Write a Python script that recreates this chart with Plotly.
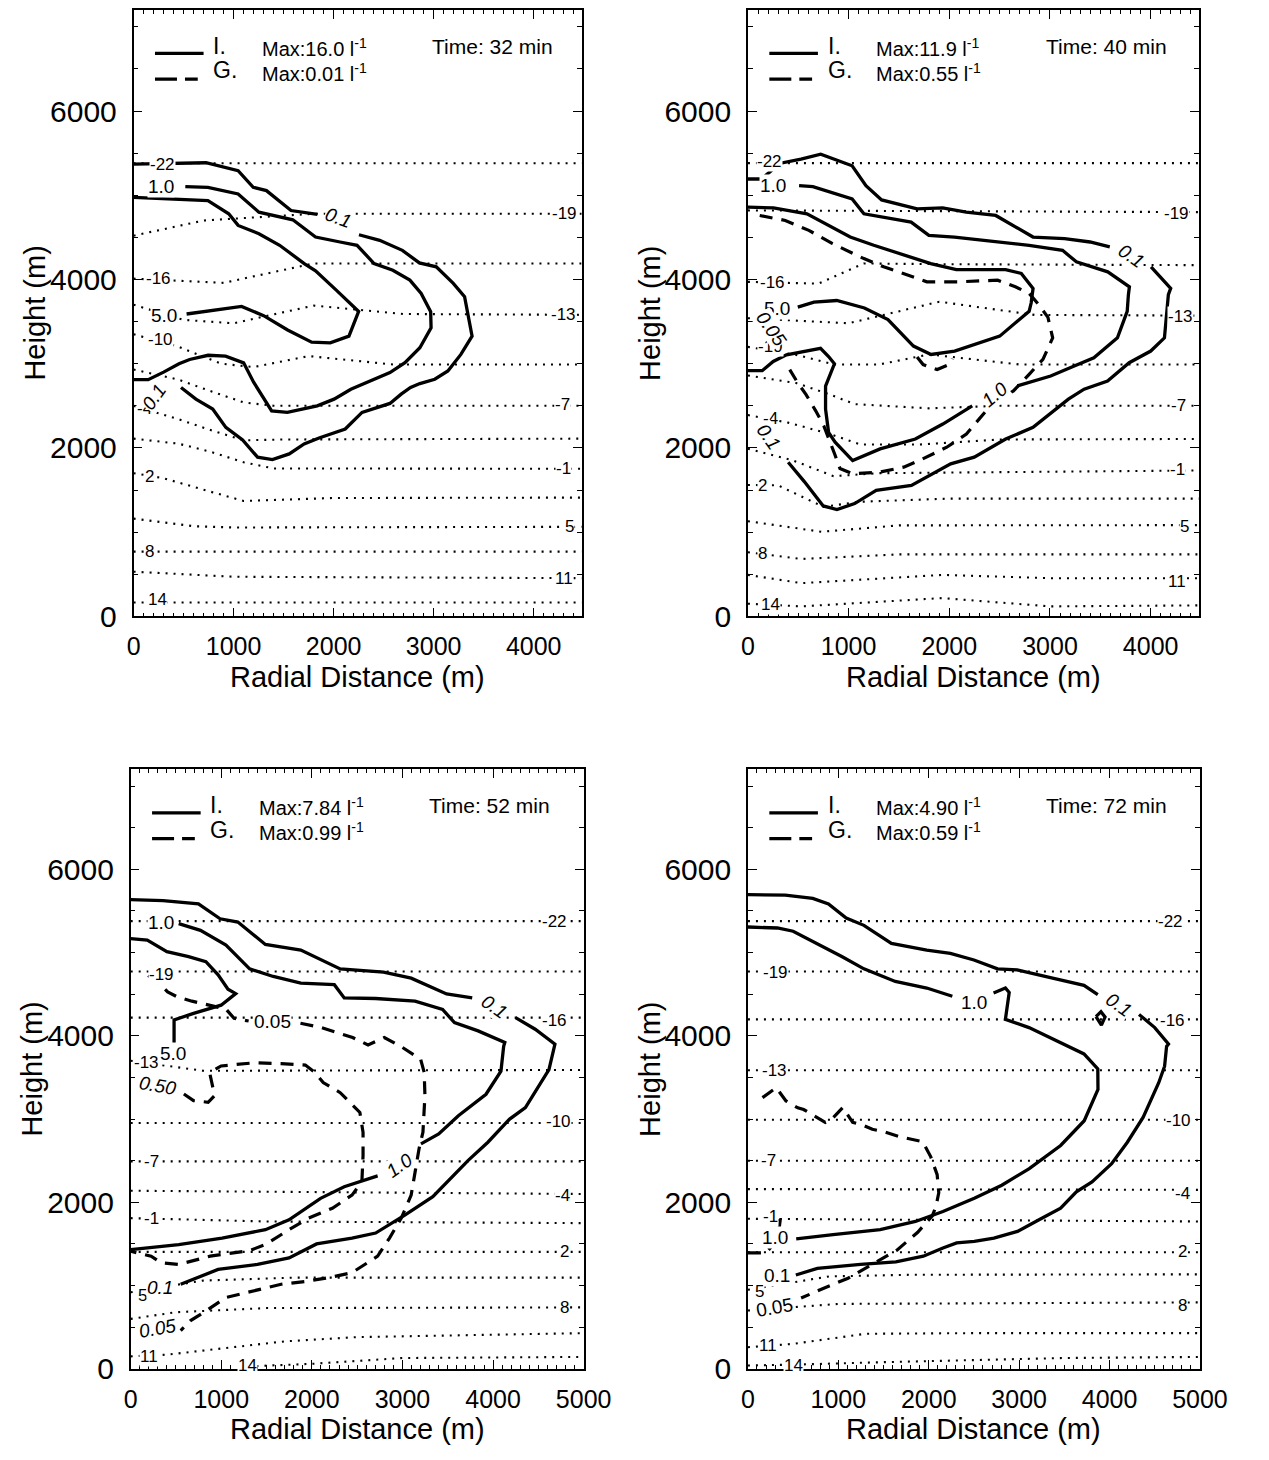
import plotly.graph_objects as go

# page is 1269x1460; the HTML body keeps its default 8px margin, so the figure is 16px smaller
PAGE_W, PAGE_H, OFF = 1269, 1460, 8
W, H = PAGE_W - 2 * OFF, PAGE_H - 2 * OFF

# ------------------------------------------------------------------ data
# temperature (deg C) isolines, dotted; each path is a list of (radial m, height m)
temp_levels = [-22, -19, -16, -13, -10, -7, -4, -1, 2, 5, 8, 11, 14]

# ---------- panel 1 : 32 min
p1_time, p1_ice_max, p1_gr_max = "32", "16.0", "0.01"
p1_temp = [
    [(0, 5380), (4480, 5380)],
    [(0, 4520), (700, 4700), (1800, 4780), (4480, 4780)],
    [(0, 4010), (900, 3960), (1800, 4190), (4480, 4190)],
    [(0, 3700), (500, 3520), (1000, 3480), (1800, 3690), (2700, 3590), (4480, 3580)],
    [(0, 3350), (450, 3200), (875, 3000), (1200, 2960), (1750, 3090), (2600, 2990), (4480, 2990)],
    [(0, 2930), (450, 2810), (780, 2670), (1100, 2540), (1400, 2500), (4480, 2500)],
    [(0, 2500), (450, 2340), (800, 2200), (1100, 2090), (1500, 2100), (4480, 2110)],
    [(0, 2110), (450, 2050), (780, 1950), (1100, 1830), (1400, 1756), (4480, 1752)],
    [(0, 1700), (300, 1640), (650, 1520), (1100, 1370), (2000, 1405), (4480, 1410)],
    [(0, 1160), (600, 1070), (1000, 1055), (4480, 1063)],
    [(0, 768), (4480, 768)],
    [(0, 530), (1000, 470), (4480, 453)],
    [(0, 165), (4480, 165)],
]
p1_temp_labels = [("-22", 290, 5360), ("-19", 4305, 4780), ("-16", 250, 4012), ("-13", 4300, 3580),
                  ("-10", 270, 3290), ("-7", 4290, 2510), ("-4", 110, 2470), ("-1", 4300, 1752),
                  ("2", 160, 1661), ("5", 4360, 1063), ("8", 160, 768), ("11", 4300, 445), ("14", 240, 200)]
p1_ice = [
    [(0, 5370), (724, 5386), (1045, 5291), (1196, 5094), (1328, 5055), (1574, 4819), (1838, 4772)],
    [(2253, 4531), (2460, 4465), (2687, 4346), (2857, 4197), (3026, 4150), (3196, 3953), (3309, 3795),
     (3347, 3559), (3384, 3327), (3272, 3110), (3142, 2913), (3011, 2815), (2862, 2764), (2769, 2717),
     (2675, 2638), (2563, 2528), (2284, 2421), (2116, 2224), (1854, 2118), (1705, 2047), (1556, 1929),
     (1388, 1862), (1239, 1890), (1090, 2094), (922, 2244), (791, 2461), (623, 2579), (474, 2717)],
    [(517, 5102), (743, 5094), (1045, 5016), (1253, 4799), (1592, 4709), (1819, 4504), (2064, 4445),
     (2234, 4406), (2404, 4189), (2592, 4110), (2762, 3992), (2875, 3835), (2970, 3618), (2974, 3425),
     (2862, 3189), (2713, 3012), (2563, 2894), (2340, 2776), (2172, 2697), (2004, 2579), (1836, 2500),
     (1537, 2421), (1380, 2440), (1200, 2780), (1100, 3010), (920, 3090), (745, 3100), (560, 3050),
     (454, 2999), (300, 2900), (146, 2810), (0, 2810)],
    [(0, 4976), (743, 4937), (951, 4780), (1045, 4642), (1253, 4543), (1460, 4406), (1706, 4189),
     (1819, 4102), (2026, 3874), (2250, 3620), (2153, 3327), (1966, 3248), (1780, 3255), (1540, 3400),
     (1300, 3570), (1080, 3680), (530, 3590)],
]
p1_gr = []
p1_cont_labels = [("1.0", 272, 5102, 0, False), ("0.1", 2040, 4730, 20, True),
                  ("5.0", 300, 3570, 0, False), ("0.1", 200, 2600, -55, True)]

# ---------- panel 2 : 40 min
p2_time, p2_ice_max, p2_gr_max = "40", "11.9", "0.55"
p2_temp = [
    [(0, 5382), (4480, 5382)],
    [(0, 4820), (4480, 4800)],
    [(0, 3972), (700, 3950), (1150, 4190), (2000, 4181), (4480, 4170)],
    [(0, 3540), (1000, 3480), (1900, 3736), (2850, 3579), (4480, 3571)],
    [(0, 3200), (500, 3100), (860, 2990), (1300, 2990), (1800, 3110), (2700, 2990), (4480, 2990)],
    [(0, 2860), (480, 2770), (800, 2640), (1060, 2520), (1800, 2470), (2500, 2500), (4480, 2500)],
    [(0, 2390), (400, 2300), (800, 2170), (1120, 2040), (1700, 2040), (2500, 2100), (4480, 2106)],
    [(0, 1990), (450, 1850), (850, 1665), (1300, 1700), (4480, 1732)],
    [(0, 1560), (300, 1555), (750, 1300), (1100, 1360), (2000, 1398), (4480, 1398)],
    [(0, 1130), (730, 1004), (1500, 1080), (4480, 1083)],
    [(0, 760), (530, 681), (1500, 736), (4480, 736)],
    [(0, 492), (530, 394), (1930, 492), (3000, 453), (4480, 453)],
    [(0, 150), (530, 118), (1930, 217), (3000, 118), (4480, 130)],
]
p2_temp_labels = [("-22", 215, 5400), ("-19", 4258, 4787), ("-16", 240, 3965), ("-13", 4297, 3560),
                  ("-10", 222, 3202), ("-7", 4274, 2500), ("-4", 222, 2350), ("-1", 4270, 1745),
                  ("2", 144, 1555), ("5", 4340, 1070), ("8", 144, 748), ("11", 4260, 415), ("14", 222, 140)]
p2_ice = [
    [(0, 5193), (137, 5193), (312, 5378), (527, 5429), (723, 5488), (1035, 5350), (1172, 5114), (1328, 4945),
     (1680, 4839), (1934, 4850), (2168, 4799), (2461, 4760), (2832, 4504), (3145, 4484), (3398, 4445),
     (3594, 4386)],
    [(4004, 4150), (4199, 3894), (4176, 3819), (4137, 3307), (4001, 3150), (3787, 3012), (3572, 2795),
     (3339, 2697), (3183, 2579), (2832, 2244), (2560, 2106), (2248, 1890), (2014, 1811), (1624, 1555),
     (1274, 1496), (1060, 1339), (884, 1268), (748, 1311), (560, 1600), (400, 1830)],
    [(508, 5114), (645, 5102), (1035, 4957), (1152, 4780), (1621, 4681), (1797, 4524), (2051, 4504),
     (2793, 4406), (3125, 4346), (3262, 4209), (3574, 4091), (3789, 3913), (3779, 3819), (3767, 3622),
     (3670, 3307), (3436, 3071), (3241, 2972), (3007, 2854), (2676, 2736)],
    [(2228, 2500), (1936, 2283), (1663, 2106), (1313, 1988), (1040, 1850), (866, 2068), (801, 2185),
     (771, 2460), (771, 2733), (859, 2999), (801, 3085), (721, 3183), (383, 3105), (251, 3026),
     (142, 2917), (0, 2917)],
    [(0, 4858), (254, 4850), (586, 4780), (840, 4622), (1016, 4504), (1250, 4406), (1504, 4307),
     (1816, 4189), (2070, 4118), (2559, 4118), (2715, 4071), (2832, 3894), (2813, 3720), (2793, 3622),
     (2501, 3327), (2053, 3150), (1819, 3110), (1644, 3209), (1391, 3524), (1157, 3661), (882, 3750),
     (656, 3730), (495, 3671)],
]
p2_gr = [
    [(117, 4760), (371, 4701), (605, 4583), (840, 4425), (1152, 4248), (1348, 4150), (1543, 4071),
     (1777, 3972), (2090, 3972), (2480, 3992), (2656, 3913), (2793, 3835), (2891, 3697), (2980, 3550),
     (3027, 3307), (2930, 3051), (2793, 2874), (2637, 2677), (2423, 2520), (2287, 2323), (2170, 2165),
     (1975, 2008), (1702, 1850), (1547, 1772), (1313, 1713), (1040, 1693), (914, 1756), (866, 1912),
     (801, 2108), (753, 2264), (673, 2440), (576, 2636), (495, 2772), (415, 2929)],
    [(1680, 3080), (1740, 2990), (1880, 2930), (2000, 2990), (2030, 3060)],
]
p2_cont_labels = [("1.0", 250, 5110, 0, False), ("0.1", 3800, 4280, 35, True),
                  ("5.0", 285, 3650, 0, False), ("1.0", 2450, 2640, -40, True),
                  ("0.1", 200, 2130, 55, True), ("0.05", 230, 3420, 55, True)]

# ---------- panel 3 : 52 min
p3_time, p3_ice_max, p3_gr_max = "52", "7.84", "0.99"
p3_temp = [
    [(0, 5378), (5000, 5378)],
    [(0, 4772), (5000, 4772)],
    [(0, 4218), (5000, 4218)],
    [(0, 3700), (800, 3580), (5000, 3590)],
    [(0, 2952), (5000, 2952)],
    [(0, 2492), (5000, 2492)],
    [(0, 2139), (5000, 2100)],
    [(0, 1810), (1500, 1770), (5000, 1750)],
    [(0, 1405), (5000, 1405)],
    [(0, 920), (800, 1060), (1800, 1095), (5000, 1095)],
    [(0, 600), (500, 680), (1500, 730), (5000, 738)],
    [(0, 150), (400, 170), (1700, 330), (2500, 381), (5000, 429)],
    [(1300, 30), (2000, 60), (3000, 130), (5000, 143)],
]
p3_temp_labels = [("-22", 4683, 5378), ("-19", 335, 4740), ("-16", 4683, 4190), ("-13", 180, 3680),
                  ("-10", 4726, 2968), ("-7", 226, 2492), ("-4", 4770, 2087), ("-1", 226, 1810),
                  ("2", 4791, 1405), ("5", 130, 880), ("8", 4791, 738), ("11", 204, 150), ("14", 1291, 40)]
p3_ice = [
    [(0, 5636), (357, 5624), (748, 5584), (987, 5406), (1183, 5366), (1487, 5097), (1878, 5030), (2313, 4804),
     (2791, 4764), (3096, 4693), (3487, 4503), (3770, 4455)],
    [(4248, 4218), (4465, 4079), (4683, 3901), (4617, 3595), (4357, 3139), (4183, 3000), (3943, 2722),
     (3726, 2504), (3335, 2067), (3030, 1849), (2704, 1631), (2443, 1571), (2052, 1500), (1748, 1333),
     (1400, 1254), (965, 1194), (552, 1016)],
    [(530, 5347), (770, 5267), (1052, 5089), (1313, 4804), (1574, 4713), (1878, 4634), (2248, 4614),
     (2357, 4455), (2704, 4448), (3139, 4416), (3443, 4317), (3574, 4158), (3835, 4059), (4130, 3921),
     (4117, 3873), (4087, 3575), (3922, 3298), (3617, 3040), (3400, 2821), (3204, 2702)],
    [(2726, 2317), (2357, 2187), (2096, 2048), (1748, 1790), (1487, 1671), (1009, 1571), (530, 1492),
     (0, 1433)],
    [(0, 5168), (183, 5149), (400, 5010), (639, 4950), (830, 4890), (965, 4733), (1074, 4560), (1159, 4507),
     (998, 4368), (694, 4270), (479, 4190), (479, 3875)],
]
p3_gr = [
    [(193, 4724), (300, 4645), (408, 4527), (515, 4468), (676, 4416), (855, 4368), (1052, 4321),
     (1141, 4210), (1302, 4178)],
    [(1874, 4151), (2100, 4100), (2450, 3980), (2620, 3890), (2800, 3980), (3000, 3860), (3200, 3720),
     (3240, 3560), (3248, 3278), (3226, 2841), (3183, 2643), (3139, 2365), (3096, 2087), (2987, 1810),
     (2857, 1571), (2726, 1353), (2443, 1155), (2183, 1095), (1922, 1048), (1661, 1016), (1291, 917),
     (1052, 857), (835, 698), (661, 579), (552, 460)],
    [(587, 3301), (694, 3222), (855, 3202), (926, 3282), (891, 3460), (872, 3558), (998, 3638),
     (1373, 3677), (1660, 3665), (1928, 3649), (2035, 3558), (2125, 3439), (2313, 3317), (2530, 3079),
     (2565, 2841), (2565, 2563), (2552, 2246), (2443, 2087), (2226, 1929), (1965, 1810), (1748, 1671),
     (1487, 1492), (1313, 1421), (878, 1353), (530, 1254), (335, 1274), (226, 1353), (52, 1393),
     (0, 1413)],
]
p3_cont_labels = [("1.0", 335, 5362, 0, False), ("0.1", 4010, 4350, 35, True),
                  ("5.0", 470, 3790, 0, False), ("1.0", 2965, 2444, -35, True),
                  ("0.1", 320, 980, 0, True), ("0.05", 1560, 4170, 0, False),
                  ("0.50", 300, 3400, 10, True), ("0.05", 291, 480, -10, True)]

# ---------- panel 4 : 72 min
p4_time, p4_ice_max, p4_gr_max = "72", "4.90", "0.59"
p4_temp = [
    [(0, 5378), (5000, 5378)],
    [(0, 4772), (5000, 4772)],
    [(0, 4198), (5000, 4198)],
    [(0, 3587), (5000, 3587)],
    [(0, 2992), (5000, 2992)],
    [(0, 2500), (5000, 2500)],
    [(0, 2159), (5000, 2150)],
    [(0, 1802), (5000, 1770)],
    [(0, 1400), (5000, 1400)],
    [(0, 950), (900, 1110), (1800, 1130), (5000, 1135)],
    [(0, 700), (1000, 780), (5000, 798)],
    [(0, 260), (500, 300), (1300, 421), (2500, 429), (5000, 429)],
    [(0, 40), (500, 50), (1500, 80), (3500, 130), (5000, 143)],
]
p4_temp_labels = [("-22", 4674, 5378), ("-19", 304, 4764), ("-16", 4696, 4180), ("-13", 291, 3587),
                  ("-10", 4761, 2980), ("-7", 226, 2504), ("-4", 4805, 2110), ("-1", 247, 1829),
                  ("2", 4805, 1413), ("5", 130, 930), ("8", 4805, 758), ("11", 226, 282), ("14", 508, 44)]
p4_ice = [
    [(0, 5695), (413, 5691), (717, 5651), (891, 5584), (1087, 5414), (1283, 5327), (1587, 5109), (1978, 5030),
     (2239, 4990), (2500, 4911), (2761, 4804), (2978, 4792), (3370, 4693), (3717, 4606), (3870, 4495)],
    [(4326, 4257), (4500, 4099), (4652, 3901), (4631, 3873), (4609, 3635), (4544, 3437), (4371, 3020),
     (4197, 2722), (4023, 2464), (3806, 2246), (3633, 2127), (3459, 1929), (3220, 1790), (2982, 1651),
     (2721, 1571), (2504, 1532), (2309, 1512), (2157, 1452), (1940, 1353), (1636, 1286), (1246, 1254),
     (768, 1206), (530, 1127)],
    [(0, 5307), (326, 5295), (500, 5256), (804, 5089), (1043, 4950), (1283, 4804), (1630, 4653),
     (1978, 4574), (2261, 4475)],
    [(2717, 4515), (2848, 4574), (2890, 4520), (2848, 4198), (3109, 4099), (3457, 3921), (3717, 3782),
     (3870, 3604), (3872, 3357), (3720, 2980), (3459, 2683), (3112, 2405), (2808, 2206), (2504, 2048),
     (2157, 1889), (1853, 1770), (1463, 1671), (942, 1611), (534, 1562)],
    [(3850, 4230), (3905, 4290), (3950, 4225), (3910, 4130), (3850, 4230)],
]
p4_gr = [
    [(161, 3258), (313, 3377), (421, 3218), (551, 3135), (616, 3115), (855, 2960), (942, 3016),
     (1050, 3139), (1159, 2960), (1268, 2929), (1376, 2877), (1502, 2850), (1681, 2787), (1932, 2728),
     (2021, 2550), (2093, 2333), (2111, 2115), (2080, 1950), (2039, 1838), (1878, 1640), (1645, 1423),
     (1322, 1225), (1107, 1088), (839, 969), (588, 850)],
    [(0, 1393), (200, 1393), (330, 1560), (356, 1780), (280, 1880)],
]
p4_cont_labels = [("1.0", 2500, 4400, 0, False), ("0.1", 4100, 4380, 35, True),
                  ("1.0", 300, 1575, 0, False), ("0.1", 320, 1120, 0, False),
                  ("0.05", 291, 738, -10, False)]

# ------------------------------------------------------------------ layout constants
# plot-area boxes in page pixels (left, right, top, bottom) and axis ranges
boxes = [(130, 591, 9, 623), (762, 1226, 9, 623), (127, 593, 778, 1385), (762, 1227, 778, 1385)]
xmax = [4480, 4480, 5000, 5000]
YMAX = 7200

panels = [
    (p1_temp, p1_temp_labels, p1_ice, p1_gr, p1_cont_labels, p1_time, p1_ice_max, p1_gr_max),
    (p2_temp, p2_temp_labels, p2_ice, p2_gr, p2_cont_labels, p2_time, p2_ice_max, p2_gr_max),
    (p3_temp, p3_temp_labels, p3_ice, p3_gr, p3_cont_labels, p3_time, p3_ice_max, p3_gr_max),
    (p4_temp, p4_temp_labels, p4_ice, p4_gr, p4_cont_labels, p4_time, p4_ice_max, p4_gr_max),
]

FONT = "Liberation Sans, Arial, Helvetica, sans-serif"


def px(x):
    return (x - OFF) / W


def py(y):
    return 1 - (y - OFF) / H


def note(x, y, text, size, xref="paper", yref="paper", xanchor="center", angle=0, bg=None):
    d = dict(x=x, y=y, xref=xref, yref=yref, text=text, showarrow=False, xanchor=xanchor,
             yanchor="middle", textangle=angle, font=dict(family=FONT, size=size, color="black"))
    if bg:
        d.update(bgcolor=bg, borderpad=0)
    return d


fig = go.Figure()
annotations = []
shapes = []

for i, (temps, tlabels, ice, gr, clabels, tmin, imax, gmax) in enumerate(panels):
    n = i + 1
    xa = "x" if n == 1 else f"x{n}"
    ya = "y" if n == 1 else f"y{n}"
    L, R, T, B = boxes[i]

    for path in temps:
        fig.add_trace(go.Scatter(x=[p[0] for p in path], y=[p[1] for p in path], mode="lines",
                                 line=dict(color="black", width=2.1, dash="2px,6px"),
                                 xaxis=xa, yaxis=ya, showlegend=False, hoverinfo="skip"))
    for path in gr:
        fig.add_trace(go.Scatter(x=[p[0] for p in path], y=[p[1] for p in path], mode="lines",
                                 line=dict(color="black", width=3.2, dash="13px,9px"),
                                 xaxis=xa, yaxis=ya, showlegend=False, hoverinfo="skip"))
    for path in ice:
        fig.add_trace(go.Scatter(x=[p[0] for p in path], y=[p[1] for p in path], mode="lines",
                                 line=dict(color="black", width=3.3),
                                 xaxis=xa, yaxis=ya, showlegend=False, hoverinfo="skip"))

    for (txt, x, y) in tlabels:
        annotations.append(note(x, y, txt, 17, xref=xa, yref=ya, bg="white"))
    for (txt, x, y, ang, ital) in clabels:
        annotations.append(note(x, y, f"<i>{txt}</i>" if ital else txt, 19, xref=xa, yref=ya,
                                angle=ang, bg="white"))

    # in-panel key (pixel offsets from the panel box)
    ly1, ly2 = T + 44, T + 70
    shapes.append(dict(type="line", xref="paper", yref="paper", x0=px(L + 22), x1=px(L + 72),
                       y0=py(ly1), y1=py(ly1), line=dict(color="black", width=3.3)))
    shapes.append(dict(type="line", xref="paper", yref="paper", x0=px(L + 22), x1=px(L + 66),
                       y0=py(ly2), y1=py(ly2), line=dict(color="black", width=3.3, dash="22px,8px")))
    annotations.append(note(px(L + 80), py(T + 36), "I.", 23, xanchor="left"))
    annotations.append(note(px(L + 80), py(T + 61), "G.", 23, xanchor="left"))
    annotations.append(note(px(L + 130), py(T + 38), f"Max:{imax} l<sup>-1</sup>", 20, xanchor="left"))
    annotations.append(note(px(L + 130), py(T + 63), f"Max:{gmax} l<sup>-1</sup>", 20, xanchor="left"))
    annotations.append(note(px(L + 305), py(T + 37), f"Time: {tmin} min", 21, xanchor="left"))

    # axis titles
    annotations.append(note(px((L + R) / 2), py(B + 61), "Radial Distance (m)", 29))
    annotations.append(note(px(L - 101), py((T + B) / 2), "Height (m)", 29, angle=-90))

    common = dict(showline=True, linecolor="black", linewidth=1.6, mirror="allticks",
                  ticks="inside", tickcolor="black", tickwidth=1.3, ticklen=9,
                  showgrid=False, zeroline=False, fixedrange=True, tick0=0)
    fig.layout[f"xaxis{'' if n == 1 else n}"] = dict(
        domain=[px(L), px(R)], range=[0, xmax[i]], dtick=1000, anchor=ya,
        minor=dict(dtick=100, ticklen=4, tickwidth=1, tickcolor="black", ticks="inside", showgrid=False),
        tickfont=dict(family=FONT, size=25, color="black"), ticklabelstandoff=7, **common)
    fig.layout[f"yaxis{'' if n == 1 else n}"] = dict(
        domain=[py(B), py(T)], range=[0, YMAX], dtick=2000, anchor=xa,
        minor=dict(dtick=500, ticklen=5, tickwidth=1, tickcolor="black", ticks="inside", showgrid=False),
        tickfont=dict(family=FONT, size=30, color="black"), ticklabelstandoff=9, **common)

fig.update_layout(width=W, height=H, margin=dict(l=0, r=0, t=0, b=0),
                  paper_bgcolor="white", plot_bgcolor="white",
                  annotations=annotations, shapes=shapes, showlegend=False)

fig.write_html("out.html")
